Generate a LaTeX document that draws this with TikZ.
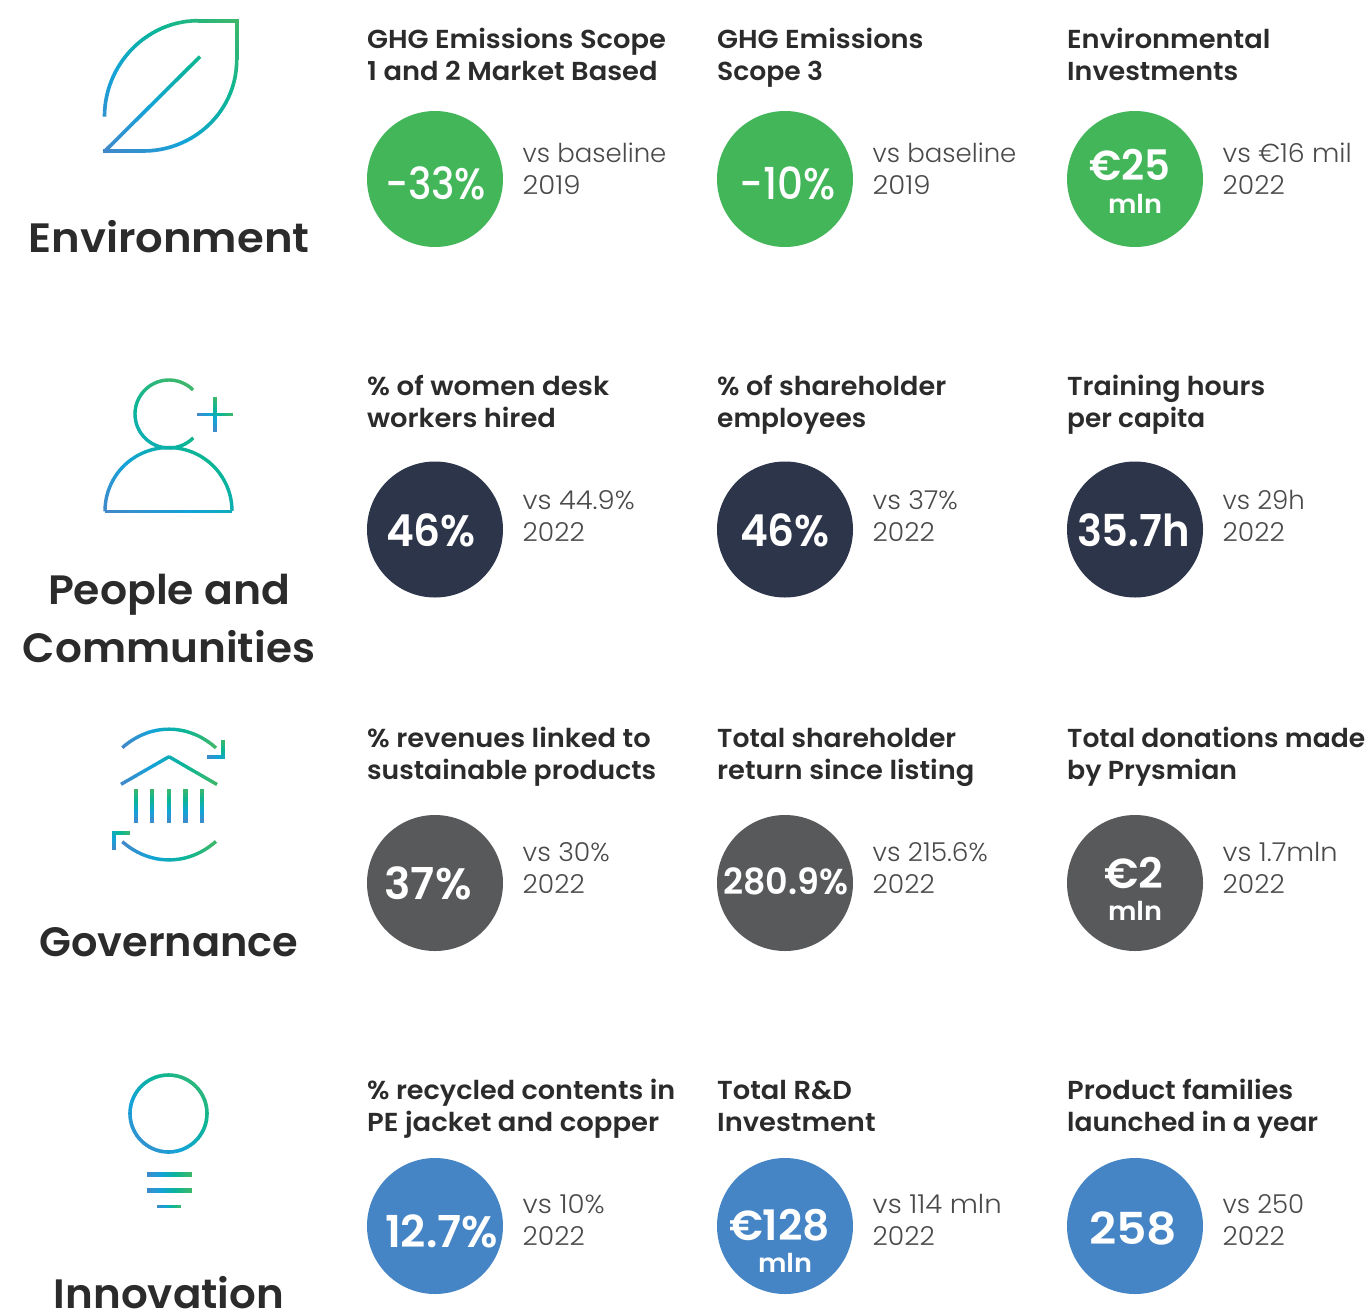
\documentclass[tikz,border=0pt]{standalone}
\usepackage{fontspec}
\usepackage{graphicx}
\setmainfont{Poppins}
\newfontfamily\fsemi{Poppins SemiBold}
\newfontfamily\fsemiw[FakeStretch=1.05]{Poppins SemiBold}
\newfontfamily\fmed{Poppins Medium}
\newfontfamily\flight{Poppins Light}
\definecolor{stopA}{HTML}{4288C9}
\definecolor{stopB}{HTML}{12A3D8}
\definecolor{stopC}{HTML}{0AB596}
\definecolor{stopD}{HTML}{3FB769}
\definecolor{kgreen}{HTML}{43B65A}
\definecolor{knavy}{HTML}{2D354A}
\definecolor{kgray}{HTML}{58595B}
\definecolor{kblue}{HTML}{4585C6}
\definecolor{ink}{HTML}{2B2B2B}
\definecolor{soft}{HTML}{4A4A4A}
\tikzset{
  kpi/.style={circle,draw=none,minimum size=136pt,inner sep=0pt},
  vallight/.style={text=white,anchor=base,inner sep=0pt,font=\fmed\fontsize{44}{44}\selectfont},
  valtext/.style={text=white,anchor=base,inner sep=0pt,font=\fsemi\fontsize{44}{44}\selectfont},
  valsmall/.style={valtext,font=\fsemi\fontsize{42}{42}\selectfont},
  unittext/.style={text=white,anchor=base,inner sep=0pt,font=\fsemi\fontsize{26}{26}\selectfont},
  labeltext/.style={text=ink,anchor=base west,inner sep=0pt,font=\fsemiw\fontsize{26}{32}\selectfont},
  cmptext/.style={text=soft,anchor=base west,inner sep=0pt,font=\flight\fontsize{26}{32}\selectfont},
  titletext/.style={text=ink,anchor=base,inner sep=0pt,font=\fsemi\fontsize{41}{58}\selectfont},
}
\def\two#1#2{\begin{tabular}[t]{@{}l@{}}#1\\#2\end{tabular}}
\newcommand\fitw[2]{\resizebox{#1pt}{\height}{#2}}
\def\yrA{\fitw{62}{2022}}
\def\yrB{\fitw{58}{2019}}
% gradient box: left, bottom, width, height
\newcommand\setgrad[4]{\def\gx{#1}\def\gb{#2}\def\gw{#3}\def\gh{#4}}
% \gcurve{width}{x(\t)}{y(\t)}{n}
\newcommand\gcurve[4]{%
  \foreach \i in {1,...,#4}{%
    \pgfmathsetmacro\t{(\i-1)/#4}%
    \pgfmathsetmacro\xa{#2}\pgfmathsetmacro\ya{#3}%
    \pgfmathsetmacro\t{\i/#4}%
    \pgfmathsetmacro\xb{#2}\pgfmathsetmacro\yb{#3}%
    \pgfmathsetmacro\uu{min(1,max(0,((\xa+\xb)/2-\gx)/\gw/2+(\gb-(\ya+\yb)/2)/\gh/2))*3}%
    \ifdim\uu pt<1pt
      \pgfmathsetmacro\pc{\uu*100}\colorlet{cc}{stopB!\pc!stopA}%
    \else\ifdim\uu pt<2pt
      \pgfmathsetmacro\pc{(\uu-1)*100}\colorlet{cc}{stopC!\pc!stopB}%
    \else
      \pgfmathsetmacro\pc{(\uu-2)*100}\colorlet{cc}{stopD!\pc!stopC}%
    \fi\fi
    \draw[cc,line width=#1pt,line cap=butt,shorten >=-.35pt] (\xa,\ya) -- (\xb,\yb);
  }%
}
\newcommand\gline[6]{\gcurve{#1}{#2+(#4-(#2))*\t}{#3+(#5-(#3))*\t}{#6}}
\newcommand\gbez[9]{\def\bzA{#1}\def\bzB{#2}\def\bzC{#3}\def\bzD{#4}\def\bzE{#5}\def\bzF{#6}\def\bzG{#7}\def\bzH{#8}\def\bzI{#9}\gbezcont}
\newcommand\gbezcont[1]{\gcurve{\bzA}
  {(1-\t)^3*\bzB+3*(1-\t)^2*\t*\bzD+3*(1-\t)*\t*\t*\bzF+\t^3*\bzH}
  {(1-\t)^3*\bzC+3*(1-\t)^2*\t*\bzE+3*(1-\t)*\t*\t*\bzG+\t^3*\bzI}{#1}}
\newcommand\garc[7]{\gcurve{#1}{#2+#4*cos(#5+(#6-(#5))*\t)}{#3-#4*sin(#5+(#6-(#5))*\t)}{#7}}
% one KPI cell: name, x, colour, circle y, label lines, comparison lines, value nodes
\newcommand\cell[9]{%
  \node[kpi,fill=#3] (#1c) at (#2+68,#4) {};
  \node[labeltext] (#1l) at (#2,\rowlab) {\two{#5}{#6}};
  \node[cmptext] (#1m) at (#2+155.5,\rowcmp) {\two{#7}{#8}};
  #9%
}
\begin{document}
\begin{tikzpicture}[x=1pt,y=-1pt]
\useasboundingbox (0,0) rectangle (1371,1312);
\fill[white] (0,0) rectangle (1371,1312);
% Titles
\node[titletext] (t1) at (169,252) {\fitw{281}{Environment}};
\node[titletext] (t2a) at (169,604) {\fitw{242}{People and}};
\node[titletext] (t2b) at (169,662) {\fitw{292}{Communities}};
\node[titletext] (t3) at (169,956) {\fitw{259}{Governance}};
\node[titletext] (t4) at (169,1308.5) {\fitw{230}{Innovation}};
% Leaf icon
\setgrad{104}{152}{134}{132}
\gbez{3.6}{104.5}{116.7}{104.5}{64}{147}{20.7}{198}{20.7}{40}
\gline{3.6}{198}{20.7}{238.5}{20.7}{6}
\gline{3.6}{236.7}{20.7}{236.7}{60}{6}
\gbez{3.6}{236.7}{60}{236.7}{111}{194}{151}{143.3}{151}{40}
\gline{3.6}{143.3}{151}{103}{151}{6}
\gline{3.6}{104}{152}{199.8}{56.8}{24}
% Person icon
\setgrad{105}{511}{127}{95}
\garc{3.4}{169}{414}{34}{45}{315}{50}
\garc{3.4}{168.5}{511}{63.5}{0}{180}{50}
\gline{3}{105}{511}{232}{511}{16}
\setgrad{197.3}{414.3}{17.5}{10000}
\gline{3.6}{197.3}{414.3}{232.3}{414.3}{10}
\setgrad{215}{431.7}{10000}{17.2}
\gline{3.6}{215}{431.7}{215}{397.3}{10}
% Governance icon
\setgrad{122.3}{740}{46.7}{10000}
\gbez{3.4}{122.3}{747.7}{150}{723}{188}{723}{215.7}{747.7}{24}
\setgrad{207}{757}{17}{17}
\gline{3.8}{223.3}{740}{223.3}{758.6}{6}
\gline{3.8}{225.2}{756.7}{207.3}{756.7}{6}
\setgrad{121}{770}{48}{10000}
\gline{3.4}{121}{784.3}{169}{756.7}{10}
\gline{3.4}{169}{756.7}{216.7}{784.3}{10}
\setgrad{100}{823}{10000}{17}
\foreach \cx in {136,152,168.7,185.3,202}{\gline{4.4}{\cx}{822.7}{\cx}{789}{8}}
\setgrad{122.3}{850}{46.7}{10000}
\gbez{3.4}{122.3}{841.7}{150}{866}{188}{866}{215.7}{841.7}{24}
\setgrad{114}{850}{17}{17}
\gline{3.8}{114}{850}{114}{831.4}{6}
\gline{3.8}{112.1}{833.3}{130}{833.3}{6}
% Bulb icon
\setgrad{130}{1152}{77}{77}
\garc{3.6}{168.5}{1113.5}{38.5}{0}{360}{72}
\setgrad{146.7}{1190}{22.5}{10000}
\gline{4.6}{146.7}{1174.3}{191.7}{1174.3}{12}
\gline{4.6}{146.7}{1190.3}{191.7}{1190.3}{12}
\setgrad{157.3}{1206.3}{11.7}{10000}
\gline{3}{157.3}{1206.3}{180.7}{1206.3}{6}
% KPI cells
\def\rowlab{48}\def\rowcmp{162}
\cell{a}{367}{kgreen}{179}{GHG Emissions Scope}{1 and 2 Market Based}{vs baseline}{\yrB}{\node[vallight] (av) at (435.5,199.5) {\fitw{101}{-33\%}};}
\cell{b}{717}{kgreen}{179}{GHG Emissions}{\fitw{106}{Scope 3}}{vs baseline}{\yrB}{\node[vallight] (bv) at (787.5,199.5) {\fitw{96}{-10\%}};}
\cell{c}{1067}{kgreen}{179}{Environmental}{\fitw{171}{Investments}}{\fitw{129}{vs €16 mil}}{\yrA}{\node[valsmall] (cv) at (1130,180) {\fitw{81}{€25}};\node[unittext] (cu) at (1135,213) {\fitw{54}{mln}};}
\def\rowlab{395}\def\rowcmp{509}
\cell{d}{367}{knavy}{529.5}{\fitw{242}{\% of women desk}}{workers hired}{\fitw{112}{vs 44.9\%}}{\yrA}{\node[valtext] (dv) at (431,546.5) {\fitw{90}{46\%}};}
\cell{e}{717}{knavy}{529.5}{\fitw{229}{\% of shareholder}}{\fitw{149}{employees}}{\fitw{85}{vs 37\%}}{\yrA}{\node[valtext] (ev) at (785,546.5) {\fitw{90}{46\%}};}
\cell{f}{1067}{knavy}{529.5}{\fitw{198}{Training hours}}{\fitw{138}{per capita}}{vs 29h}{\yrA}{\node[valtext] (fv) at (1133.5,546.5) {\fitw{113}{35.7h}};}
\def\rowlab{747}\def\rowcmp{861}
\cell{g}{367}{kgray}{883}{\% revenues linked to}{\fitw{289}{sustainable products}}{\fitw{87}{vs 30\%}}{\yrA}{\node[valtext] (gv) at (428,899.5) {\fitw{87}{37\%}};}
\cell{h}{717}{kgray}{883}{\fitw{239}{Total shareholder}}{return since listing}{\fitw{115}{vs 215.6\%}}{\yrA}{\node[valtext,font=\fsemi\fontsize{36}{36}\selectfont] (hv) at (785.5,894.5) {\fitw{125}{280.9\%}};}
\cell{i}{1067}{kgray}{883}{\fitw{298}{Total donations made}}{\fitw{170}{by Prysmian}}{\fitw{115}{vs 1.7mln}}{\yrA}{\node[valsmall] (iv) at (1133.5,888.5) {\fitw{59}{€2}};\node[unittext] (iu) at (1135,920) {\fitw{54}{mln}};}
\def\rowlab{1099}\def\rowcmp{1213}
\cell{j}{367}{kblue}{1226}{\fitw{308}{\% recycled contents in}}{\fitw{292}{PE jacket and copper}}{\fitw{82}{vs 10\%}}{\yrA}{\node[valtext] (jv) at (441.5,1247.5) {\fitw{113}{12.7\%}};}
\cell{k}{717}{kblue}{1226}{Total R\&D}{Investment}{\fitw{129}{vs 114 mln}}{\yrA}{\node[valsmall] (kv) at (779.5,1240) {\fitw{101}{€128}};\node[unittext] (ku) at (785,1272) {\fitw{54}{mln}};}
\cell{l}{1067}{kblue}{1226}{Product families}{\fitw{251}{launched in a year}}{vs 250}{\yrA}{\node[valtext] (lv) at (1133,1244) {\fitw{88}{258}};}
\end{tikzpicture}
\end{document}
